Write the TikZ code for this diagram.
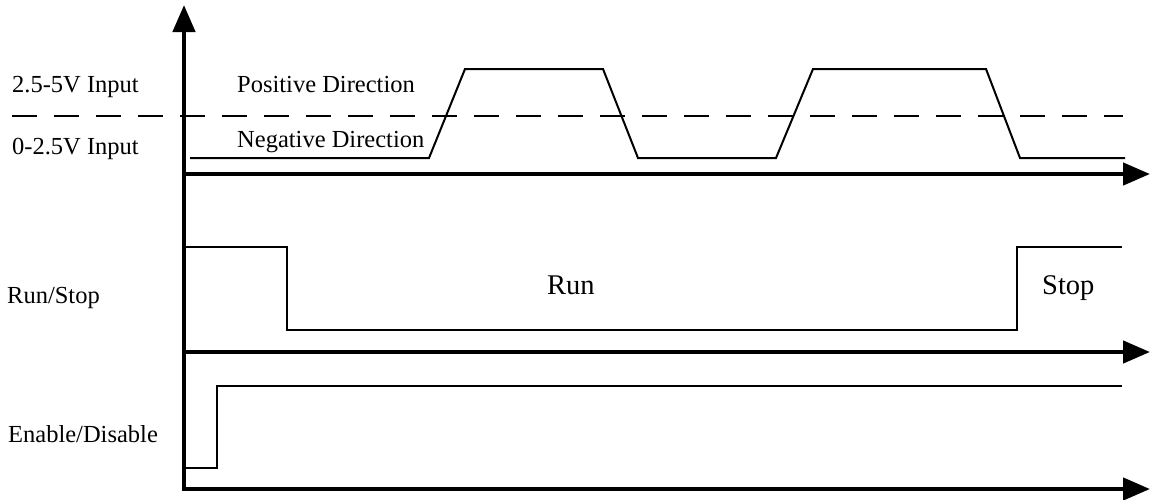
\documentclass[tikz,border=0pt]{standalone}
\usepackage{fontspec}
\setmainfont{Liberation Serif}
\usetikzlibrary{arrows.meta}
\begin{document}
\begin{tikzpicture}[x=1pt,y=-1pt,
  axisline/.style={line width=4.5pt, line join=miter, -{Triangle[length=27pt,width=22pt]}},
  signal/.style={line width=2pt, line join=miter},
  refline/.style={line width=2pt, dash pattern=on 25pt off 17pt},
  lbl/.style={inner sep=0pt, anchor=base west, font=\fontsize{24.5}{28}\selectfont},
  biglbl/.style={inner sep=0pt, anchor=base west, font=\fontsize{28.5}{32}\selectfont}]
\useasboundingbox (0,0) rectangle (1150,499);
% axis coordinates
\coordinate (origin) at (184,489);
\coordinate (ytop) at (184,5);
\coordinate (x1s) at (184,174);
\coordinate (x1e) at (1150,174);
\coordinate (x2s) at (184,352);
\coordinate (x2e) at (1150,352);
\coordinate (x3e) at (1150,489);
\coordinate (ds) at (12,116);
\coordinate (de) at (1123,116);
% axes
\draw[line width=4.5pt, line join=miter, {Triangle[length=27pt,width=22pt]}-{Triangle[length=27pt,width=22pt]}] (x3e) -- (origin) -- (ytop);
\draw[axisline] (x1s) -- (x1e);
\draw[axisline] (x2s) -- (x2e);
% threshold
\draw[refline] (ds) -- (de);
% signal 1
\draw[signal] (190,158) -- (429,158) -- (465,69) -- (603,69) -- (638,158) -- (776,158) -- (813,69) -- (986,69) -- (1020,158) -- (1125,158);
% signal 2
\draw[signal] (184,247) -- (287,247) -- (287,330) -- (1017,330) -- (1017,247) -- (1122,247);
% signal 3
\draw[signal] (184,468) -- (217,468) -- (217,386) -- (1122,386);
% labels
\node[lbl] (hi) at (12,92) {2.5-5V Input};
\node[lbl] (lo) at (12,154) {0-2.5V Input};
\node[lbl] (pos) at (237,92) {Positive Direction};
\node[lbl] (neg) at (237,147) {Negative Direction};
\node[lbl] (rs) at (7,303) {Run/Stop};
\node[lbl] (ed) at (8,442) {Enable/Disable};
\node[biglbl] (run) at (547,294) {Run};
\node[biglbl] (stop) at (1042,294) {Stop};
\end{tikzpicture}
\end{document}
